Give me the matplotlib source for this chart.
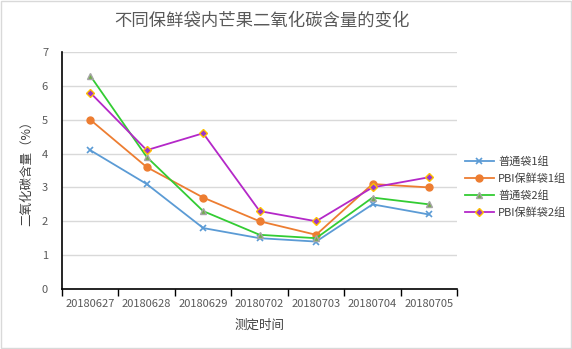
import matplotlib
matplotlib.use("Agg")
import matplotlib.pyplot as plt
from matplotlib.ticker import FixedLocator, NullFormatter, FixedFormatter

plt.rcParams['font.family'] = ['Noto Sans CJK SC', 'DejaVu Sans']

dates = ["20180627", "20180628", "20180629", "20180702", "20180703", "20180704", "20180705"]
normal_1 = [4.1, 3.1, 1.8, 1.5, 1.4, 2.5, 2.2]
pbi_1 = [5.0, 3.6, 2.7, 2.0, 1.6, 3.1, 3.0]
normal_2 = [6.3, 3.9, 2.3, 1.6, 1.5, 2.7, 2.5]
pbi_2 = [5.8, 4.1, 4.6, 2.3, 2.0, 3.0, 3.3]
series_names = ["普通袋1组", "PBI保鲜袋1组", "普通袋2组", "PBI保鲜袋2组"]

fig = plt.figure(figsize=(5.72, 3.49), dpi=100)
fig.patch.set_facecolor("white")
# thin frame around the whole chart
fig.add_artist(plt.Rectangle((0.001, 0.002), 0.997, 0.995, transform=fig.transFigure,
                             fill=False, edgecolor="#D9D9D9", linewidth=1))

ax = fig.add_axes([0.1084, 0.172, 0.691, 0.679])
x = list(range(len(dates)))

ax.plot(x, normal_1, color="#5B9BD5", lw=1.3, marker="x", ms=5, mew=1.2,
        label=series_names[0])
ax.plot(x, pbi_1, color="#ED7D31", lw=1.3, marker="o", ms=5,
        label=series_names[1])
ax.plot(x, normal_2, color="#33CC33", lw=1.3, marker="^", ms=5,
        mfc="#70AD47", mec="#A5A5A5", label=series_names[2])
ax.plot(x, pbi_2, color="#B428C8", lw=1.3, marker="D", ms=4.5,
        mfc="#9933CC", mec="#FFC000", mew=1.0, label=series_names[3])

ax.set_xlim(-0.5, len(dates) - 0.5)
ax.set_ylim(0, 7)
ax.set_yticks(range(0, 8))
ax.yaxis.grid(True, color="#D9D9D9", lw=1)
ax.set_axisbelow(True)

# category labels centered, ticks between categories
ax.xaxis.set_major_locator(FixedLocator([i - 0.5 for i in range(len(dates) + 1)]))
ax.xaxis.set_major_formatter(NullFormatter())
ax.xaxis.set_minor_locator(FixedLocator(x))
ax.xaxis.set_minor_formatter(FixedFormatter(dates))
ax.tick_params(axis="x", which="major", length=5, color="black", width=1, direction="out")
ax.tick_params(axis="x", which="minor", length=0, pad=7, labelsize=8, labelcolor="#595959")
ax.tick_params(axis="y", length=0, labelsize=8, labelcolor="#595959", pad=10)

for s in ["top", "right"]:
    ax.spines[s].set_visible(False)
ax.spines["left"].set_color("black")
ax.spines["bottom"].set_color("black")
ax.spines["left"].set_linewidth(1.2)
ax.spines["bottom"].set_linewidth(1.2)

ax.set_xlabel("测定时间", fontsize=9, color="#404040", labelpad=7)
ax.set_ylabel("二氧化碳含量（%）", fontsize=9, color="#404040", labelpad=6)

fig.text(0.458, 0.942, "不同保鲜袋内芒果二氧化碳含量的变化", ha="center", va="center",
         fontsize=12.5, color="#595959")

ax.legend(loc="center left", bbox_to_anchor=(1.0, 0.43), frameon=False,
          fontsize=8, labelcolor="#404040", handlelength=2.6, handletextpad=0.4,
          borderaxespad=0.3, labelspacing=0.55)

fig.savefig("out.png", dpi=100, facecolor="white")
